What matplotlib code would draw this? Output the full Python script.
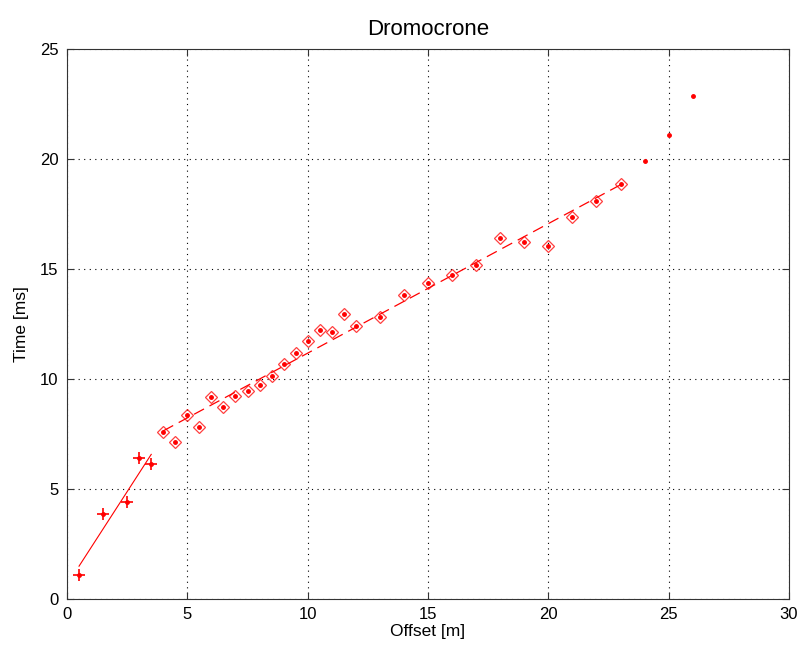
# Dromocrone: first-arrival times vs offset with two linear fits

import matplotlib
matplotlib.use("Agg")
import matplotlib.pyplot as plt
import numpy as np

plt.rcParams["font.family"] = ["Liberation Sans", "DejaVu Sans"]

# direct wave picks
x_dir = [0.5, 1.5, 2.5, 3.0, 3.5]
t_dir = [1.10, 3.85, 4.40, 6.39, 6.12]

# refracted wave picks (used in the fit)
x_ref = [4.0, 4.5, 5.0, 5.5, 6.0, 6.5, 7.0, 7.5, 8.0, 8.5, 9.0, 9.5, 10.0,
         10.5, 11.0, 11.5, 12.0, 13.0, 14.0, 15.0, 16.0, 17.0, 18.0, 19.0,
         20.0, 21.0, 22.0, 23.0]
t_ref = [7.58, 7.15, 8.36, 7.83, 9.17, 8.74, 9.24, 9.47, 9.71, 10.15, 10.68,
         11.17, 11.73, 12.23, 12.15, 12.95, 12.42, 12.83, 13.82, 14.38, 14.73,
         15.17, 16.40, 16.24, 16.06, 17.38, 18.10, 18.85]

# far picks, not fitted
x_far = [24.0, 25.0, 26.0]
t_far = [19.92, 21.10, 22.88]

red = "#ff0000"
fs = 12

fig = plt.figure(figsize=(8.01, 6.5), dpi=100)
ax = fig.add_axes([67 / 801, 51 / 650, 722 / 801, 550 / 650])

# all picks as dots
ax.plot(x_dir + x_ref + x_far, t_dir + t_ref + t_far, ".", color=red, ms=5)

# direct wave
ax.plot(x_dir, t_dir, "+", color=red, ms=8, mew=1.2)
p1 = np.polyfit(x_dir, t_dir, 1)
xx1 = np.array([x_dir[0], x_dir[-1]])
ax.plot(xx1, np.polyval(p1, xx1), "-", color=red, lw=0.8)

# refracted wave
ax.plot(x_ref, t_ref, "D", color=red, mfc="none", ms=6.5, mew=0.9, alpha=0.75)
p2 = np.polyfit(x_ref, t_ref, 1)
xx2 = np.array([x_ref[0], x_ref[-1]])
ax.plot(xx2, np.polyval(p2, xx2), "--", color=red, lw=0.9, dashes=(9, 5))

ax.set_xlim(0, 30)
ax.set_ylim(0, 25)
ax.set_xticks([0, 5, 10, 15, 20, 25, 30])
ax.set_yticks([0, 5, 10, 15, 20, 25])
ax.grid(True, color="k", ls=(0, (1, 4)), lw=0.8)
ax.tick_params(direction="in", length=5, top=True, right=True,
               labelsize=fs, pad=6, color="#333333")
for s in ax.spines.values():
    s.set_color("#333333")
    s.set_linewidth(0.8)

ax.set_title("Dromocrone", fontsize=16, pad=10)
ax.set_xlabel("Offset [m]", fontsize=fs + 0.5, labelpad=1)
ax.set_ylabel("Time [ms]", fontsize=fs + 0.5, labelpad=8)

fig.savefig("out.png", dpi=100)
